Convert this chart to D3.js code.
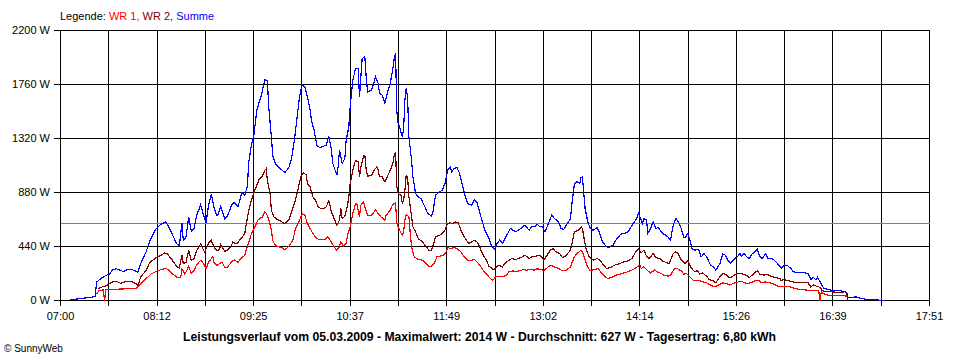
<!DOCTYPE html>
<html>
<head>
<meta charset="utf-8">
<script src="https://cdn.jsdelivr.net/npm/d3@7"></script>
<style>
  html, body { margin: 0; padding: 0; background: #fff; }
  svg { display: block; }
  text { font-family: "Liberation Sans", Arial, sans-serif; font-size: 11px; fill: #000; }
</style>
</head>
<body>
<script>
const yTicks = [0, 440, 880, 1320, 1760, 2200];
const xTickLabels = ["07:00", "08:12", "09:25", "10:37", "11:49", "13:02", "14:14", "15:26", "16:39", "17:51"];
const average = 627;
const title = "Leistungsverlauf vom 05.03.2009 - Maximalwert: 2014 W - Durchschnitt: 627 W - Tagesertrag: 6,80 kWh";

const wr1 = [
  ["07:27",54],["07:29",81],["07:32",87],["07:33",0],["07:34",87],["07:37",92],["07:42",92],["07:49",95],["07:57",100],
  ["08:00",136],["08:04",177],["08:08",217],["08:12",239],["08:15",250],["08:19",261],["08:21",250],["08:24",217],
  ["08:27",190],["08:30",185],["08:31",258],["08:33",217],["08:34",231],["08:36",277],["08:38",223],["08:40",244],
  ["08:42",293],["08:45",326],["08:47",304],["08:49",258],["08:51",312],["08:54",359],["08:55",312],["08:57",285],
  ["08:59",299],["09:01",312],["09:03",272],["09:05",272],["09:08",312],["09:10",331],["09:13",312],["09:15",340],
  ["09:18",367],["09:19",407],["09:21",475],["09:23",543],["09:26",611],["09:28",657],["09:31",679],["09:33",720],
  ["09:34",712],["09:36",665],["09:38",570],["09:39",489],["09:41",448],["09:44",435],["09:46",429],["09:48",413],
  ["09:51",440],["09:54",489],["09:56",584],["09:59",652],["10:01",705],["10:03",695],["10:05",627],["10:07",587],
  ["10:09",546],["10:12",505],["10:14",497],["10:18",497],["10:20",519],["10:22",492],["10:25",437],["10:27",410],
  ["10:29",437],["10:30",478],["10:32",443],["10:34",464],["10:35",532],["10:37",600],["10:39",709],["10:41",790],
  ["10:42",790],["10:44",682],["10:45",777],["10:47",804],["10:48",763],["10:50",695],["10:53",695],["10:55",722],
  ["10:56",736],["10:58",709],["11:00",682],["11:03",655],["11:04",695],["11:07",736],["11:09",785],["11:11",796],
  ["11:12",627],["11:13",600],["11:14",573],["11:16",532],["11:17",560],["11:18",655],["11:19",703],["11:21",682],
  ["11:22",546],["11:23",437],["11:25",356],["11:28",334],["11:31",329],["11:34",301],["11:36",280],["11:38",280],
  ["11:40",301],["11:42",356],["11:44",361],["11:47",369],["11:49",397],["11:50",432],["11:52",424],["11:55",432],
  ["11:57",424],["12:00",397],["12:02",361],["12:05",329],["12:07",323],["12:10",334],["12:12",315],["12:15",274],
  ["12:17",242],["12:20",206],["12:22",179],["12:24",166],["12:26",193],["12:29",198],["12:31",193],["12:34",206],
  ["12:36",234],["12:39",242],["12:41",234],["12:44",242],["12:47",253],["12:49",247],["12:52",253],["12:55",247],
  ["12:57",258],["13:00",253],["13:02",242],["13:04",261],["13:07",288],["13:10",274],["13:13",261],["13:16",242],
  ["13:19",247],["13:22",274],["13:25",356],["13:27",383],["13:30",410],["13:31",397],["13:33",329],["13:35",269],
  ["13:37",242],["13:40",253],["13:43",261],["13:45",225],["13:48",193],["13:50",179],["13:53",187],["13:56",206],
  ["13:59",215],["14:02",225],["14:05",234],["14:09",253],["14:12",274],["14:14",288],["14:15",261],["14:17",274],
  ["14:20",242],["14:22",225],["14:25",247],["14:27",234],["14:30",220],["14:32",206],["14:35",198],["14:37",206],
  ["14:40",261],["14:42",261],["14:45",242],["14:47",215],["14:49",220],["14:52",187],["14:54",166],["14:58",166],
  ["15:01",152],["15:04",144],["15:07",125],["15:10",111],["15:13",125],["15:16",144],["15:19",139],["15:21",125],
  ["15:24",139],["15:28",152],["15:31",152],["15:34",139],["15:37",144],["15:40",160],["15:43",166],["15:45",144],
  ["15:48",152],["15:51",144],["15:54",136],["15:57",118],["16:00",112],["16:02",118],["16:06",112],["16:10",98],
  ["16:14",90],["16:19",85],["16:22",79],["16:28",79],["16:29",0],["16:30",79],["16:31",57],["16:35",44],
  ["16:41",44],["16:49",36],["16:50",0]
];

const wr2 = [
  ["07:28",95],["07:32",114],["07:35",122],["07:38",149],["07:42",157],["07:45",141],["07:49",155],["07:53",155],
  ["07:56",141],["07:58",122],["08:00",190],["08:04",244],["08:07",312],["08:12",353],["08:15",367],["08:18",386],
  ["08:20",380],["08:23",340],["08:27",277],["08:29",266],["08:31",367],["08:32",299],["08:34",312],["08:36",407],
  ["08:38",326],["08:40",340],["08:42",407],["08:45",462],["08:46",435],["08:48",394],["08:51",467],["08:53",489],
  ["08:55",435],["08:57",407],["08:59",413],["09:00",456],["09:03",402],["09:05",407],["09:08",448],["09:09",475],
  ["09:12",462],["09:15",502],["09:18",543],["09:19",611],["09:21",733],["09:23",815],["09:25",883],["09:27",937],
  ["09:29",991],["09:31",1010],["09:33",1059],["09:34",1073],["09:35",978],["09:37",869],["09:38",733],["09:40",679],
  ["09:43",657],["09:45",646],["09:48",625],["09:51",657],["09:53",720],["09:56",815],["09:58",910],["10:00",1005],
  ["10:02",1040],["10:04",1025],["10:05",953],["10:07",926],["10:09",845],["10:11",818],["10:13",763],["10:15",750],
  ["10:17",750],["10:19",763],["10:21",812],["10:23",722],["10:25",668],["10:27",614],["10:29",655],["10:30",750],
  ["10:31",668],["10:33",687],["10:35",777],["10:36",845],["10:37",953],["10:39",1062],["10:41",1143],["10:43",1130],
  ["10:44",1008],["10:45",1089],["10:47",1176],["10:48",1184],["10:49",1062],["10:50",1013],["10:53",1019],["10:55",1062],
  ["10:57",1089],["10:58",1062],["10:59",1008],["11:01",1008],["11:03",967],["11:05",1013],["11:07",1062],["11:09",1116],
  ["11:10",1184],["11:11",1211],["11:12",926],["11:13",872],["11:15",858],["11:16",796],["11:17",818],["11:18",899],
  ["11:19",1021],["11:20",1008],["11:21",845],["11:23",682],["11:24",600],["11:26",560],["11:28",505],["11:31",478],
  ["11:33",451],["11:36",410],["11:38",410],["11:39",443],["11:41",519],["11:44",532],["11:46",546],["11:48",573],
  ["11:50",627],["11:52",633],["11:54",627],["11:56",641],["11:58",633],["11:59",600],["12:01",546],["12:04",492],
  ["12:06",464],["12:08",478],["12:10",492],["12:12",478],["12:14",437],["12:16",383],["12:19",329],["12:21",280],
  ["12:24",253],["12:26",261],["12:28",288],["12:31",274],["12:33",301],["12:36",329],["12:38",342],["12:41",334],
  ["12:43",342],["12:46",356],["12:48",369],["12:51",342],["12:53",356],["12:56",361],["12:58",369],["13:00",361],
  ["13:02",329],["13:04",361],["13:07",410],["13:09",424],["13:11",397],["13:14",383],["13:16",350],["13:18",361],
  ["13:20",383],["13:22",410],["13:24",505],["13:25",560],["13:28",573],["13:30",600],["13:31",587],["13:32",519],
  ["13:34",410],["13:36",356],["13:39",329],["13:42",342],["13:44",329],["13:47",288],["13:49",261],["13:52",269],
  ["13:55",288],["13:59",301],["14:02",315],["14:05",323],["14:08",342],["14:11",397],["14:13",421],["14:15",388],
  ["14:17",410],["14:19",361],["14:21",342],["14:24",383],["14:26",350],["14:29",342],["14:31",323],["14:34",307],
  ["14:36",301],["14:39",383],["14:41",397],["14:43",378],["14:45",329],["14:48",301],["14:50",329],["14:52",274],
  ["14:55",234],["14:57",242],["14:59",215],["15:01",225],["15:04",198],["15:06",171],["15:09",160],["15:11",144],
  ["15:13",179],["15:16",220],["15:18",215],["15:21",187],["15:23",193],["15:26",215],["15:29",220],["15:31",215],
  ["15:34",206],["15:36",187],["15:39",215],["15:42",242],["15:44",215],["15:47",206],["15:49",215],["15:52",198],
  ["15:56",187],["15:59",179],["16:00",161],["16:02",172],["16:05",161],["16:08",153],["16:12",145],["16:16",145],
  ["16:20",145],["16:22",112],["16:24",126],["16:26",118],["16:29",107],["16:31",79],["16:34",71],["16:37",71],
  ["16:41",68],["16:45",68],["16:48",71],["16:49",63],["16:50",0]
];

const summe = [
  ["07:07",5],["07:14",14],["07:23",27],["07:26",33],["07:27",149],["07:30",177],["07:34",204],["07:37",217],
  ["07:39",253],["07:42",258],["07:47",236],["07:50",250],["07:54",250],["07:58",231],["08:00",299],["08:04",394],
  ["08:07",489],["08:11",576],["08:15",619],["08:19",641],["08:23",557],["08:27",462],["08:29",448],["08:31",630],
  ["08:32",489],["08:34",516],["08:36",679],["08:38",565],["08:40",584],["08:42",693],["08:45",780],["08:47",701],
  ["08:49",633],["08:51",782],["08:53",869],["08:55",760],["08:57",693],["08:58",701],["09:00",769],["09:03",665],
  ["09:05",684],["09:08",774],["09:10",801],["09:13",766],["09:16",883],["09:18",856],["09:20",929],["09:21",1127],
  ["09:23",1263],["09:25",1358],["09:27",1548],["09:30",1657],["09:31",1697],["09:33",1798],["09:35",1793],["09:36",1575],
  ["09:38",1331],["09:39",1181],["09:41",1113],["09:44",1081],["09:48",1043],["09:51",1081],["09:53",1154],["09:55",1290],
  ["09:57",1467],["09:59",1657],["10:01",1760],["10:03",1740],["10:05",1659],["10:07",1551],["10:08",1469],["10:10",1388],
  ["10:12",1266],["10:14",1247],["10:16",1252],["10:19",1266],["10:21",1339],["10:23",1225],["10:24",1116],["10:27",1021],
  ["10:28",1089],["10:29",1225],["10:31",1116],["10:33",1157],["10:34",1306],["10:36",1415],["10:37",1578],["10:39",1795],
  ["10:41",1890],["10:43",1890],["10:44",1659],["10:45",1822],["10:46",1972],["10:48",1985],["10:49",1822],["10:50",1700],
  ["10:53",1714],["10:55",1782],["10:56",1822],["10:58",1768],["10:59",1687],["11:01",1673],["11:03",1611],["11:05",1700],
  ["11:07",1768],["11:09",1890],["11:10",1972],["11:11",2014],["11:12",1540],["11:13",1442],["11:14",1415],["11:16",1334],
  ["11:17",1388],["11:18",1632],["11:19",1727],["11:20",1659],["11:21",1334],["11:23",1143],["11:24",1008],["11:26",872],
  ["11:28",845],["11:30",831],["11:33",763],["11:35",709],["11:38",687],["11:39",722],["11:41",858],["11:43",877],
  ["11:46",899],["11:48",953],["11:50",1062],["11:52",1089],["11:53",1048],["11:55",1076],["11:57",1084],["11:59",1035],
  ["12:01",940],["12:03",858],["12:05",790],["12:08",777],["12:10",818],["12:12",796],["12:14",722],["12:16",641],
  ["12:18",573],["12:21",505],["12:23",443],["12:25",416],["12:27",464],["12:29",492],["12:31",464],["12:33",505],
  ["12:35",546],["12:37",587],["12:39",573],["12:41",560],["12:44",579],["12:46",600],["12:48",614],["12:51",573],
  ["12:53",600],["12:55",600],["12:57",622],["12:59",600],["13:01",600],["13:03",559],["13:05",614],["13:08",695],
  ["13:10",668],["13:13",641],["13:15",587],["13:17",579],["13:19",614],["13:22",668],["13:23",777],["13:25",953],
  ["13:27",967],["13:29",953],["13:30",1002],["13:31",1008],["13:32",872],["13:33",750],["13:35",641],["13:37",587],
  ["13:39",573],["13:42",595],["13:44",546],["13:46",478],["13:49",437],["13:51",432],["13:54",451],["13:56",492],
  ["13:59",532],["14:01",546],["14:04",551],["14:06",573],["14:09",627],["14:11",655],["14:13",709],["14:14",682],
  ["14:16",627],["14:17",668],["14:19",655],["14:20",546],["14:22",587],["14:24",641],["14:26",587],["14:28",595],
  ["14:30",559],["14:32",541],["14:35",519],["14:37",492],["14:39",614],["14:41",668],["14:43",641],["14:45",587],
  ["14:47",513],["14:48",513],["14:50",546],["14:52",478],["14:53",424],["14:55",410],["14:58",416],["15:00",356],
  ["15:02",383],["15:04",356],["15:07",288],["15:09",274],["15:11",247],["15:14",301],["15:16",378],["15:18",370],
  ["15:20",329],["15:22",301],["15:24",329],["15:27",356],["15:29",383],["15:30",361],["15:32",383],["15:34",356],
  ["15:36",342],["15:38",378],["15:40",397],["15:42",416],["15:44",356],["15:46",342],["15:48",383],["15:50",342],
  ["15:52",344],["15:54",336],["15:57",303],["15:59",276],["16:00",262],["16:02",290],["16:05",281],["16:07",262],
  ["16:09",235],["16:12",227],["16:16",227],["16:20",221],["16:22",172],["16:24",189],["16:26",167],["16:27",189],
  ["16:29",153],["16:31",112],["16:32",98],["16:35",90],["16:37",85],["16:40",79],["16:44",79],["16:48",71],
  ["16:49",63],["16:50",25],["16:53",25],["16:56",30],["16:58",22],["17:01",14],["17:05",8],["17:09",8],
  ["17:13",3],["17:17",3]
];

const series = [
  { name: "WR 1", color: "#ff0000", data: wr1 },
  { name: "WR 2", color: "#800000", data: wr2 },
  { name: "Summe", color: "#0000ff", data: summe }
];

const width = 960, height = 360;
const parseTime = d3.timeParse("%H:%M");

const svg = d3.select("body").append("svg")
    .attr("width", width)
    .attr("height", height);

const tStart = parseTime(xTickLabels[0]);
const tEnd = parseTime(xTickLabels[xTickLabels.length - 1]);

const x = d3.scaleTime().domain([tStart, tEnd]).range([60.5, 929.5]);
const y = d3.scaleLinear().domain([0, 2200]).range([300.5, 30.5]);

// 18 grid intervals, every second one labelled
const gridTimes = d3.range(19).map(i => new Date(+tStart + i * (tEnd - tStart) / 18));

const grid = svg.append("g").attr("shape-rendering", "crispEdges");

grid.selectAll("line.v")
    .data(gridTimes)
    .enter().append("line")
    .attr("class", "v")
    .attr("x1", d => Math.round(x(d) - 0.5) + 0.5)
    .attr("x2", d => Math.round(x(d) - 0.5) + 0.5)
    .attr("y1", y(2200))
    .attr("y2", y(0) + 5)
    .attr("stroke", "#000");

grid.selectAll("line.h")
    .data(yTicks)
    .enter().append("line")
    .attr("class", "h")
    .attr("x1", 54)
    .attr("x2", x(tEnd) + 0.5)
    .attr("y1", d => y(d))
    .attr("y2", d => y(d))
    .attr("stroke", "#000");

// average line
grid.append("line")
    .attr("x1", x(tStart))
    .attr("x2", x(tEnd))
    .attr("y1", Math.round(y(average) - 0.5) + 0.5)
    .attr("y2", Math.round(y(average) - 0.5) + 0.5)
    .attr("stroke", "#808080");

// y labels
svg.selectAll("text.ylab")
    .data(yTicks)
    .enter().append("text")
    .attr("class", "ylab")
    .attr("x", 50)
    .attr("y", d => y(d))
    .attr("dy", "0.35em")
    .attr("text-anchor", "end")
    .text(d => d + " W");

// x labels
svg.selectAll("text.xlab")
    .data(xTickLabels)
    .enter().append("text")
    .attr("class", "xlab")
    .attr("x", (d, i) => x(gridTimes[i * 2]))
    .attr("y", 320)
    .attr("text-anchor", "middle")
    .text(d => d);

// series
const line = d3.line()
    .x(d => x(parseTime(d[0])))
    .y(d => y(d[1]));

svg.append("g")
    .selectAll("path")
    .data(series)
    .enter().append("path")
    .attr("d", d => line(d.data))
    .attr("fill", "none")
    .attr("stroke", d => d.color)
    .attr("stroke-width", 1.2)
    .attr("shape-rendering", "crispEdges");

// legend
const legend = svg.append("text").attr("x", 60).attr("y", 20);
legend.append("tspan").text("Legende: ");
series.forEach((s, i) => {
    legend.append("tspan")
        .attr("fill", s.color)
        .style("fill", s.color)
        .text(s.name + (i < series.length - 1 ? ", " : ""));
});

// title
svg.append("text")
    .attr("x", 183)
    .attr("y", 341)
    .attr("textLength", 593)
    .attr("lengthAdjust", "spacingAndGlyphs")
    .style("font-weight", "bold")
    .style("font-size", "12px")
    .text(title);

svg.append("text")
    .attr("x", 4)
    .attr("y", 352)
    .style("font-size", "10px")
    .text("\u00a9 SunnyWeb");
</script>
</body>
</html>
